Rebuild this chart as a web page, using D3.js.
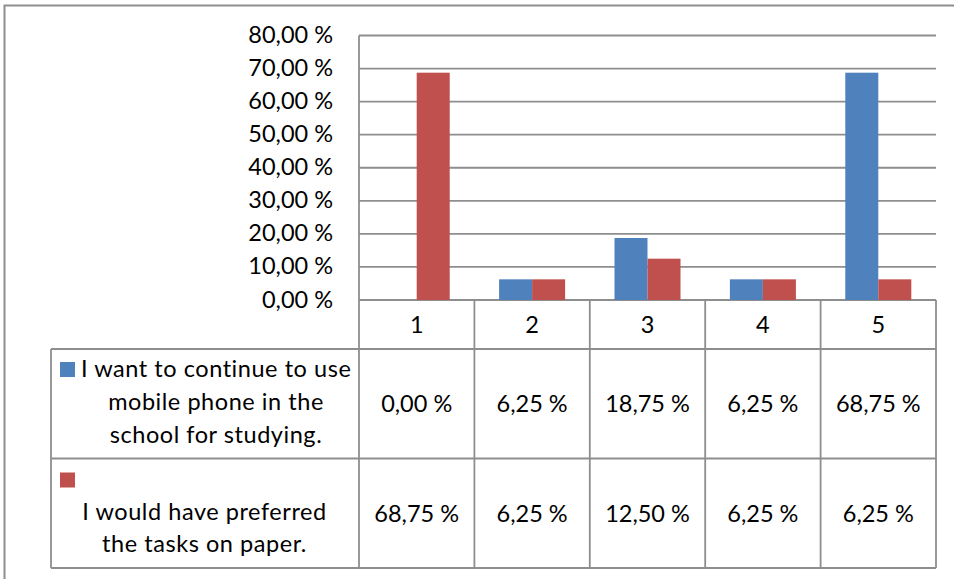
<!DOCTYPE html>
<html>
<head>
<meta charset="utf-8">
<script src="https://cdn.jsdelivr.net/npm/d3@7"></script>
<style>
  body { margin: 0; background: #fff; }
  svg { display: block; }
  text { font-family: Lato, "Open Sans", sans-serif; fill: #000; }
</style>
</head>
<body>
<svg id="chart" width="954" height="579"></svg>
<script>
// Survey answers per scale point (percent of respondents)
const categories = ["1", "2", "3", "4", "5"];
const seriesKeys = ["continueMobile", "preferPaper"];
const continueMobile = [0, 6.25, 18.75, 6.25, 68.75];
const preferPaper = [68.75, 6.25, 12.5, 6.25, 6.25];
const yTicks = [0, 10, 20, 30, 40, 50, 60, 70, 80];
const seriesColors = ["#4F81BD", "#C0504D"];
const legendLines = [
  ["I want to continue to use", "mobile phone in the", "school for studying."],
  ["", "I would have preferred", "the tasks on paper."]
];

const seriesValues = [continueMobile, preferPaper];
const fmt = v => d3.format(".2f")(v).replace(".", ",") + " %";

const svg = d3.select("#chart");
const gridColor = "#8e8e8e";
const fontSize = 23.5;

// Layout of plot and data table
const plotLeft = 359, plotRight = 936, plotTop = 35.5, plotBottom = 300;
const tableLeft = 51, catRowBottom = 349, row1Bottom = 458.5, tableBottom = 568;

const x = d3.scaleBand().domain(categories).range([plotLeft, plotRight]).paddingInner(0).paddingOuter(0);
const xInner = d3.scaleBand().domain(seriesKeys).range([0, x.bandwidth()]).paddingInner(0).paddingOuter(0.748);
const y = d3.scaleLinear().domain([0, 80]).range([plotBottom, plotTop]);

// Outer frame (top and left edges visible)
svg.append("path")
  .attr("d", `M4.5,${579} V5.5 H954`)
  .attr("fill", "none").attr("stroke", gridColor).attr("stroke-width", 2);

// Horizontal gridlines
svg.append("g").selectAll("line").data(yTicks).join("line")
  .attr("x1", plotLeft).attr("x2", plotRight)
  .attr("y1", d => y(d)).attr("y2", d => y(d))
  .attr("stroke", gridColor).attr("stroke-width", 1.8);

// Y-axis tick labels
svg.append("g").selectAll("text").data(yTicks).join("text")
  .attr("x", 333).attr("y", d => y(d) + 7.5)
  .attr("text-anchor", "end")
  .style("font-size", fontSize + "px")
  .text(fmt);

// Bars
const bars = svg.append("g");
seriesKeys.forEach((key, si) => {
  bars.append("g").selectAll("rect").data(categories).join("rect")
    .attr("x", c => x(c) + xInner(key))
    .attr("width", xInner.bandwidth())
    .attr("y", (c, i) => y(seriesValues[si][i]))
    .attr("height", (c, i) => y(0) - y(seriesValues[si][i]))
    .attr("fill", seriesColors[si]);
});

// Data table lines
const tbl = svg.append("g").attr("stroke", gridColor).attr("stroke-width", 1.8);
tbl.append("line").attr("x1", plotLeft).attr("x2", plotLeft).attr("y1", plotTop).attr("y2", tableBottom);
categories.forEach((c, i) => {
  const xr = x(c) + x.bandwidth();
  tbl.append("line").attr("x1", xr).attr("x2", xr).attr("y1", plotBottom).attr("y2", tableBottom);
});
tbl.append("line").attr("x1", tableLeft).attr("x2", tableLeft).attr("y1", catRowBottom).attr("y2", tableBottom);
[catRowBottom, row1Bottom, tableBottom].forEach(yy => {
  tbl.append("line").attr("x1", tableLeft).attr("x2", plotRight).attr("y1", yy).attr("y2", yy);
});

// Category labels
svg.append("g").selectAll("text").data(categories).join("text")
  .attr("x", c => x(c) + x.bandwidth() / 2)
  .attr("y", 333)
  .attr("text-anchor", "middle")
  .style("font-size", fontSize + "px")
  .text(c => c);

// Value cells
const rowBaselines = [411.5, 522];
seriesValues.forEach((vals, si) => {
  svg.append("g").selectAll("text").data(vals).join("text")
    .attr("x", (v, i) => x(categories[i]) + x.bandwidth() / 2)
    .attr("y", rowBaselines[si])
    .attr("text-anchor", "middle")
    .style("font-size", fontSize + "px")
    .text(fmt);
});

// Legend keys and series names
const keyTops = [362, 472.5];
const legendBaselines = [[377, 410, 443], [null, 519.5, 552]];
const legendCenters = [[null, 216, 216], [null, 204.5, 204.5]];
seriesKeys.forEach((key, si) => {
  svg.append("rect")
    .attr("x", 60).attr("y", keyTops[si]).attr("width", 15).attr("height", 15)
    .attr("fill", seriesColors[si]);
  legendLines[si].forEach((line, li) => {
    if (!line) return;
    const t = svg.append("text")
      .attr("y", legendBaselines[si][li])
      .style("font-size", fontSize + "px")
      .style("letter-spacing", "0.55px")
      .text(line);
    if (li === 0) t.attr("x", 81).attr("text-anchor", "start");
    else t.attr("x", legendCenters[si][li]).attr("text-anchor", "middle");
  });
});
</script>
</body>
</html>
